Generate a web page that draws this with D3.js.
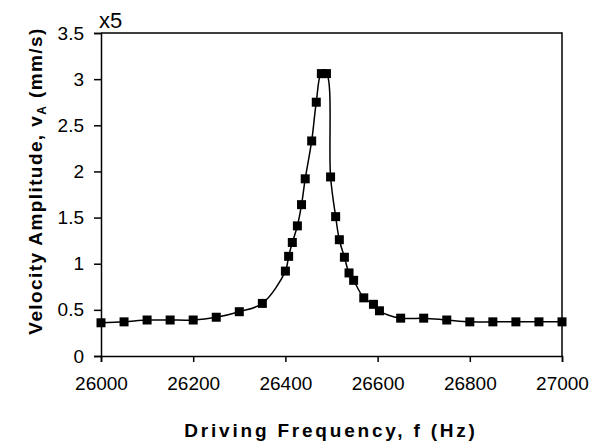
<!DOCTYPE html>
<html>
<head>
<meta charset="utf-8">
<script src="https://cdn.jsdelivr.net/npm/d3@7"></script>
<style>
  body { margin: 0; background: #fff; }
  text { fill: #000; }
</style>
</head>
<body>
<div class="chart"></div>
<script>
// resonance sweep: driving frequency (Hz) against velocity amplitude (x5 mm/s)
var frequencies = [26000, 26050, 26100, 26150, 26200, 26250, 26300, 26350, 26400, 26407,
  26415, 26426, 26435, 26443, 26457, 26467, 26478, 26489, 26498, 26509, 26517, 26528,
  26538, 26548, 26570, 26591, 26604, 26650, 26700, 26750, 26800, 26850, 26900, 26950, 27000];
var amplitudes = [0.36, 0.37, 0.39, 0.39, 0.39, 0.42, 0.48, 0.57, 0.92, 1.08,
  1.23, 1.41, 1.64, 1.92, 2.33, 2.75, 3.06, 3.06, 1.94, 1.51, 1.26, 1.07,
  0.9, 0.82, 0.63, 0.56, 0.49, 0.41, 0.41, 0.39, 0.37, 0.37, 0.37, 0.37, 0.37];
var xTicks = [26000, 26200, 26400, 26600, 26800, 27000];
var yTicks = [0, 0.5, 1, 1.5, 2, 2.5, 3, 3.5];

var svgWidth = 589, svgHeight = 448;
var margin = {top: 33, right: 27, bottom: 92, left: 101};
var width = svgWidth - margin.left - margin.right;
var height = svgHeight - margin.top - margin.bottom;
var font = "'Liberation Sans', Arial, sans-serif";

var svg = d3.select(".chart")
  .append("svg")
  .attr("width", svgWidth)
  .attr("height", svgHeight);

var chart = svg.append("g")
  .attr("transform", "translate(" + margin.left + "," + margin.top + ")");

var x = d3.scaleLinear().domain([26000, 27000]).range([0, width]);
var y = d3.scaleLinear().domain([0, 3.5]).range([height, 0]);

var points = frequencies.map(function(f, i) { return [f, amplitudes[i]]; });

// frame on top and right
chart.append("path")
  .attr("d", "M0,0H" + width + "V" + height)
  .attr("fill", "none")
  .attr("stroke", "#000")
  .attr("stroke-width", 1.5);

var xAxis = chart.append("g")
  .attr("transform", "translate(0," + height + ")")
  .call(d3.axisBottom(x).tickValues(xTicks).tickSize(6).tickPadding(15).tickFormat(d3.format("d")));

var yAxis = chart.append("g")
  .call(d3.axisLeft(y).tickValues(yTicks).tickSize(7).tickPadding(10).tickFormat(function(d) { return d; }));

[xAxis, yAxis].forEach(function(ax) {
  ax.select(".domain").attr("stroke", "#000").attr("stroke-width", 1.5);
  ax.selectAll(".tick line").attr("stroke", "#000").attr("stroke-width", 1.5);
  ax.selectAll(".tick text")
    .attr("fill", "#000")
    .style("font-family", font)
    .style("font-size", "19px");
});

// smoothed line through the measurements
var line = d3.line()
  .x(function(d) { return x(d[0]); })
  .y(function(d) { return y(d[1]); })
  .curve(d3.curveCatmullRom.alpha(0.5));

chart.append("path")
  .attr("d", line(points))
  .attr("fill", "none")
  .attr("stroke", "#000")
  .attr("stroke-width", 1.5);

var size = 9;
chart.selectAll("rect.marker")
  .data(points)
  .enter().append("rect")
    .attr("class", "marker")
    .attr("x", function(d) { return x(d[0]) - size / 2; })
    .attr("y", function(d) { return y(d[1]) - size / 2; })
    .attr("width", size)
    .attr("height", size)
    .attr("fill", "#000");

// multiplier above the y axis
svg.append("text")
  .attr("x", 99)
  .attr("y", 28)
  .style("font-family", font)
  .style("font-size", "22px")
  .text("x5");

svg.append("text")
  .attr("x", 331)
  .attr("y", 437)
  .attr("text-anchor", "middle")
  .style("font-family", font)
  .style("font-size", "19px")
  .style("font-weight", "bold")
  .style("letter-spacing", "2.8px")
  .text("Driving Frequency, f (Hz)");

var yTitle = svg.append("text")
  .attr("transform", "translate(42,181) rotate(-90)")
  .attr("text-anchor", "middle")
  .style("font-family", font)
  .style("font-size", "19px")
  .style("font-weight", "bold")
  .style("letter-spacing", "1.4px");
yTitle.append("tspan").text("Velocity Amplitude, v");
yTitle.append("tspan").attr("dy", 4).style("font-size", "12px").text("A");
yTitle.append("tspan").attr("dy", -4).text(" (mm/s)");
</script>
</body>
</html>
